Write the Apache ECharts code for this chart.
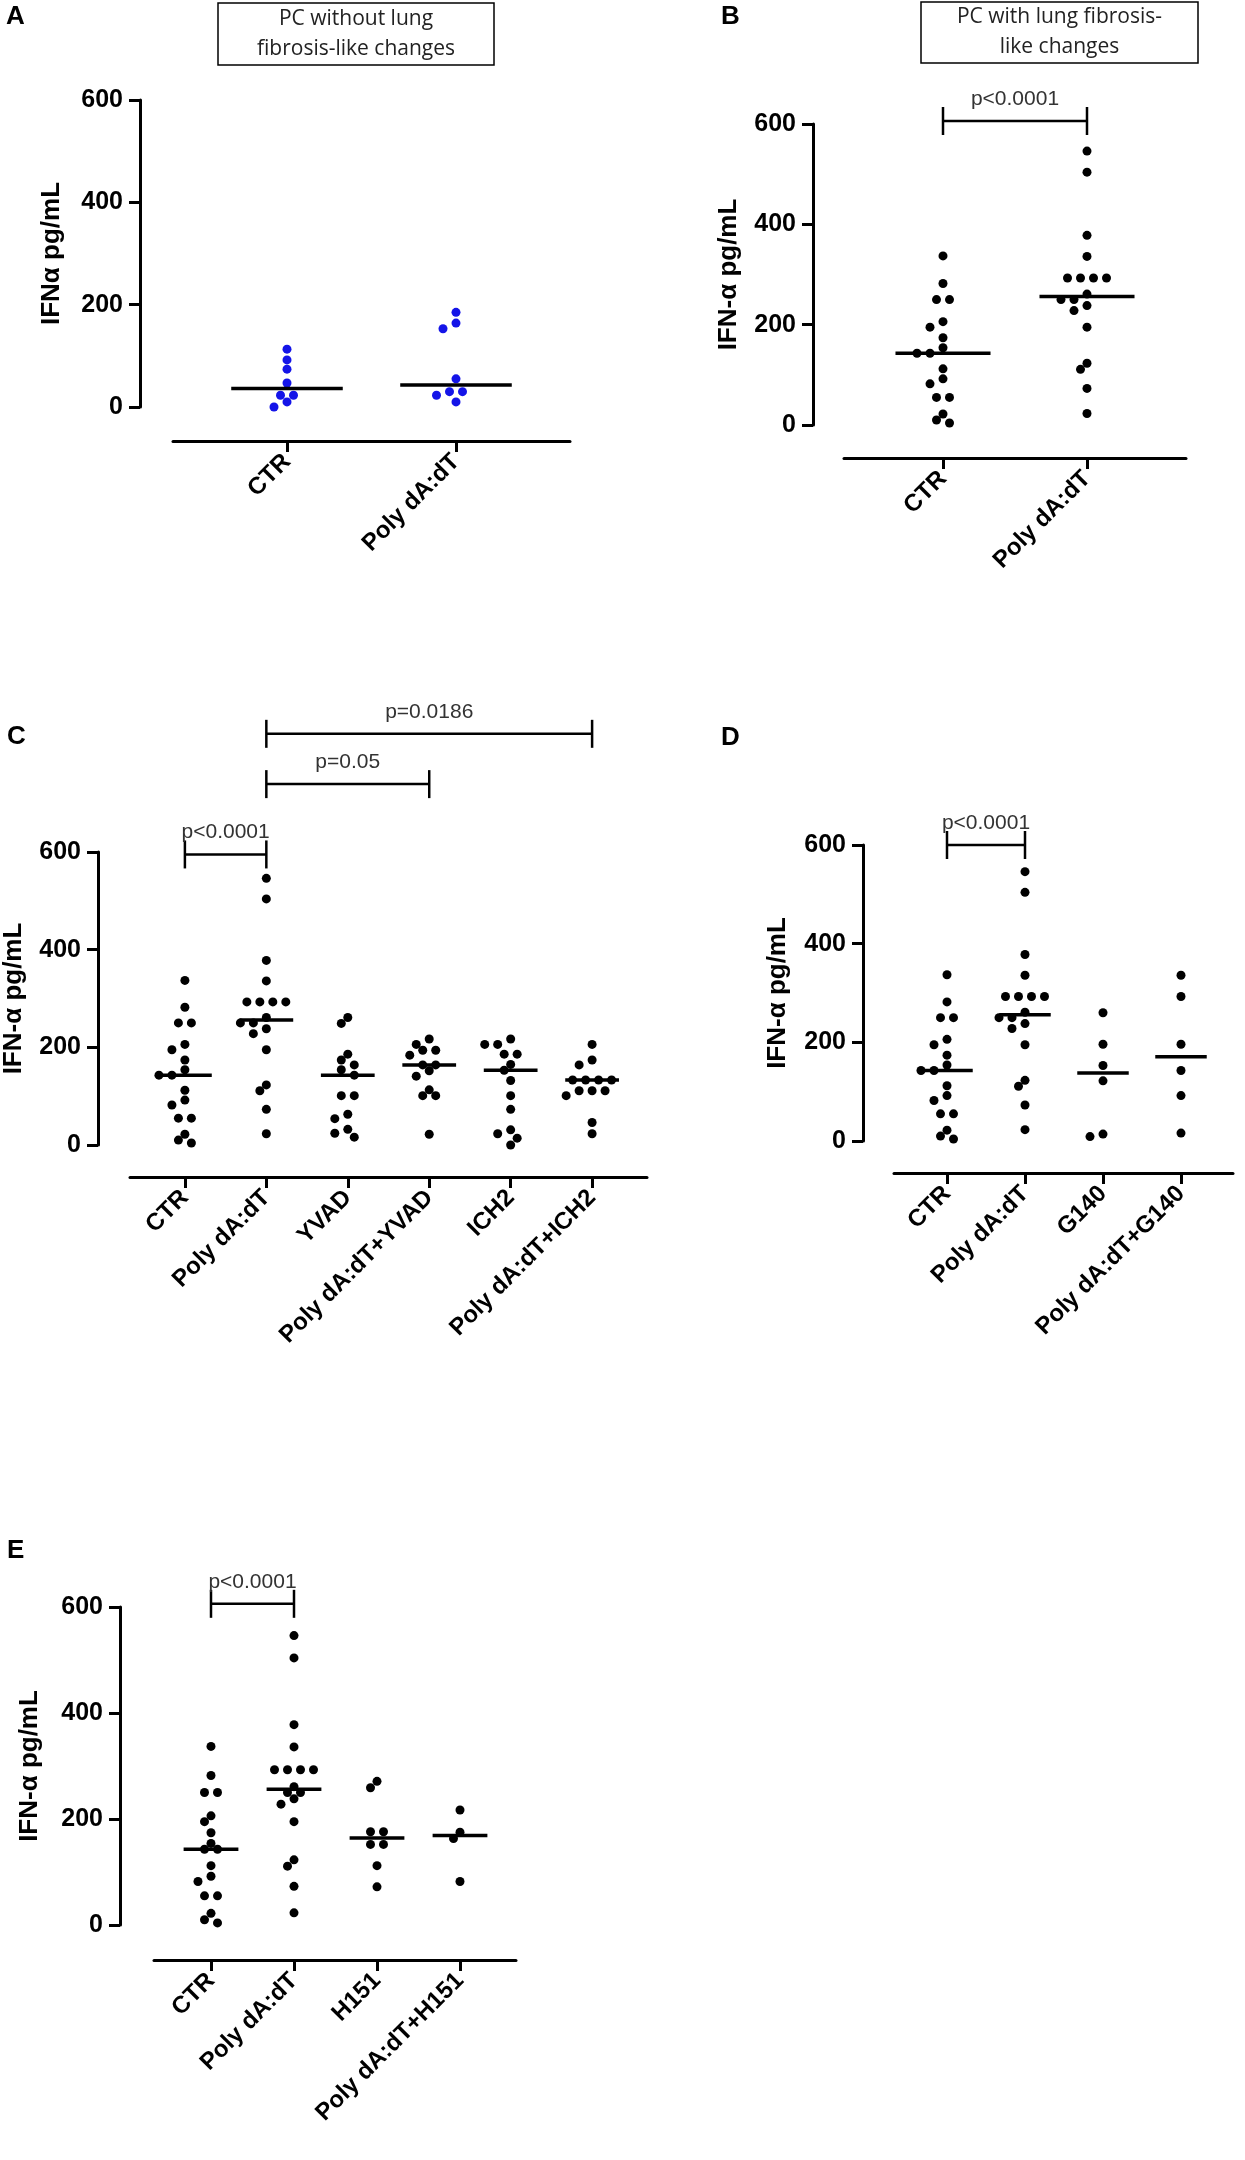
<!DOCTYPE html>
<html>
<head>
<meta charset="utf-8">
<script src="https://cdn.jsdelivr.net/npm/echarts@6.0.0/dist/echarts.min.js"></script>
<style>
  html, body { margin: 0; padding: 0; background: #fff; }
  #chart { width: 1245px; height: 2160px; }
</style>
</head>
<body>
<div id="chart"></div>
<script>
// IFN-alpha (pg/mL)
const ctrA = [113, 92, 74, 47, 23, 23, 10, 0];
const polyA = [185, 164, 153, 55, 30, 30, 23, 10];
const mediansA = [36, 43];

const ctr = [337, 282, 250, 250, 206, 195, 174, 154, 143, 143, 112, 92, 82, 55, 55, 22, 10, 4];
const poly = [546, 504, 378, 336, 293, 293, 293, 293, 261, 250, 250, 238, 228, 195, 123, 111, 73, 23];
const yvad = [261, 249, 186, 174, 164, 154, 143, 101, 101, 63, 54, 32, 24, 16];
const polyYvad = [217, 206, 194, 194, 184, 164, 164, 152, 141, 113, 101, 101, 22];
const ich2 = [217, 206, 206, 186, 186, 165, 153, 132, 101, 73, 31, 23, 14, 0];
const polyIch2 = [206, 174, 164, 133, 133, 133, 133, 111, 111, 111, 101, 46, 23];
const g140 = [260, 196, 153, 122, 14, 9];
const polyG140 = [336, 293, 196, 143, 92, 16];
const h151 = [271, 259, 176, 176, 152, 152, 112, 72];
const polyH151 = [217, 175, 163, 82];

const mediansB = [143, 256];
const mediansC = [143, 256, 143, 164, 153, 133];
const mediansD = [143, 256, 138, 171];
const mediansE = [143, 256, 164, 169];

const catsAB = ["CTR", "Poly dA:dT"];
const catsC = ["CTR", "Poly dA:dT", "YVAD", "Poly dA:dT+YVAD", "ICH2", "Poly dA:dT+ICH2"];
const catsD = ["CTR", "Poly dA:dT", "G140", "Poly dA:dT+G140"];
const catsE = ["CTR", "Poly dA:dT", "H151", "Poly dA:dT+H151"];

// [from group, to group, height (pg/mL), text]
const bracketsB = [[0, 1, 606, "p<0.0001"]];
const bracketsC = [[0, 1, 595, "p<0.0001"], [1, 3, 739, "p=0.05"], [1, 5, 842, "p=0.0186"]];
const bracketsD = [[0, 1, 600, "p<0.0001"]];
const bracketsE = [[0, 1, 606, "p<0.0001"]];

const FONT = "'Liberation Sans', Arial, sans-serif";

const panels = [
  { groups: [ctrA, polyA], medians: mediansA, cats: catsAB, brackets: [], color: "#1414e8",
    yName: "IFNα pg/mL", yAxisX: 140, top: 100, bottom: 407, lineY: 441, xL: 173, xR: 570, c0: 287, step: 169, nameGap: 75 },
  { groups: [ctr, poly], medians: mediansB, cats: catsAB, brackets: bracketsB, color: "#000",
    yName: "IFN-α pg/mL", yAxisX: 813, top: 124, bottom: 425, lineY: 458, xL: 844, xR: 1186, c0: 943, step: 144, nameGap: 71 },
  { groups: [ctr, poly, yvad, polyYvad, ich2, polyIch2], medians: mediansC, cats: catsC, brackets: bracketsC, color: "#000",
    yName: "IFN-α pg/mL", yAxisX: 97, top: 852, bottom: 1145, lineY: 1177, xL: 129, xR: 647, c0: 184, step: 81.6, nameGap: 71 },
  { groups: [ctr, poly, g140, polyG140], medians: mediansD, cats: catsD, brackets: bracketsD, color: "#000",
    yName: "IFN-α pg/mL", yAxisX: 863, top: 845, bottom: 1141, lineY: 1173, xL: 894, xR: 1233, c0: 947, step: 78, nameGap: 72 },
  { groups: [ctr, poly, h151, polyH151], medians: mediansE, cats: catsE, brackets: bracketsE, color: "#000",
    yName: "IFN-α pg/mL", yAxisX: 120, top: 1607, bottom: 1925, lineY: 1960, xL: 154, xR: 516, c0: 211, step: 83, nameGap: 77 },
];

// GraphPad-like horizontal spread so dots do not sit on top of each other
function swarmX(values, kx, ky) {
  const step = 13, half = step / 2, minDist = 8.6;
  const order = values.map((v, i) => i).sort((a, b) => values[b] - values[a]);
  const off = new Array(values.length).fill(0);
  const placed = [];
  let i = 0;
  while (i < order.length) {
    let j = i + 1;
    while (j < order.length && (values[order[i]] - values[order[j]]) * ky < 1.5) j++;
    const cluster = order.slice(i, j);
    const m = cluster.length;
    const base = cluster.map((_, k) => (k - (m - 1) / 2) * step);
    const ys = cluster.map((idx) => values[idx] * ky);
    let chosen = base;
    for (let t = 0; t < 17; t++) {
      const shift = t === 0 ? 0 : (t % 2 ? -1 : 1) * Math.ceil(t / 2) * half;
      const xs = base.map((b) => b + shift);
      const ok = xs.every((x, k) =>
        placed.every((p) => Math.hypot(p[0] - x, p[1] - ys[k]) >= minDist),
      );
      if (ok) {
        chosen = xs;
        break;
      }
    }
    cluster.forEach((idx, k) => {
      off[idx] = chosen[k] / kx;
      placed.push([chosen[k], ys[k]]);
    });
    i = j;
  }
  return off;
}

const grid = [], xAxis = [], yAxis = [], series = [];

panels.forEach((p, pi) => {
  const idx = p.cats.map((c, i) => i);
  const ky = (p.bottom - p.top) / 600;

  grid.push({ left: p.xL, top: p.top, width: p.xR - p.xL, height: p.bottom - p.top });

  xAxis.push({
    gridIndex: pi,
    type: "value",
    min: -(p.c0 - p.xL) / p.step,
    max: (p.xR - p.c0) / p.step,
    offset: p.lineY - p.bottom,
    axisLine: { show: true, onZero: false, lineStyle: { color: "#000", width: 3 } },
    axisTick: { show: true, customValues: idx, length: 11, lineStyle: { color: "#000", width: 3 } },
    axisLabel: {
      customValues: idx,
      formatter: (v) => p.cats[Math.round(v)],
      rotate: 45,
      margin: 17,
      color: "#000",
      fontSize: 24,
      fontWeight: "bold",
      fontFamily: FONT,
    },
    splitLine: { show: false },
  });

  yAxis.push({
    gridIndex: pi,
    type: "value",
    min: 0,
    max: 600,
    interval: 200,
    offset: p.xL - p.yAxisX,
    axisLine: { show: true, onZero: false, lineStyle: { color: "#000", width: 3 } },
    axisTick: { show: true, length: 11, lineStyle: { color: "#000", width: 3 } },
    axisLabel: { color: "#000", fontSize: 25, fontWeight: "bold", fontFamily: FONT, margin: 17 },
    splitLine: { show: false },
    name: p.yName,
    nameLocation: "middle",
    nameGap: p.nameGap,
    nameTextStyle: { color: "#000", fontSize: 26, fontWeight: "bold", fontFamily: FONT },
  });

  const pts = [];
  p.groups.forEach((vals, gi) => {
    const off = swarmX(vals, p.step, ky);
    vals.forEach((v, k) => pts.push([gi + off[k], v]));
  });

  series.push({
    type: "scatter",
    xAxisIndex: pi,
    yAxisIndex: pi,
    symbolSize: 9,
    itemStyle: { color: p.color, opacity: 1 },
    data: pts,
    silent: true,
    z: 2,
  });

  series.push({
    type: "custom",
    xAxisIndex: pi,
    yAxisIndex: pi,
    clip: false,
    silent: true,
    z: 3,
    encode: { x: 0, y: 1 },
    data: p.medians.map((m, i) => [i, m]),
    renderItem: (params, api) => {
      const a = api.coord([api.value(0) - 0.33, api.value(1)]);
      const b = api.coord([api.value(0) + 0.33, api.value(1)]);
      return {
        type: "line",
        shape: { x1: a[0], y1: a[1], x2: b[0], y2: b[1] },
        style: { stroke: "#000", lineWidth: 3.5 },
      };
    },
  });

  if (p.brackets.length) {
    series.push({
      type: "custom",
      xAxisIndex: pi,
      yAxisIndex: pi,
      clip: false,
      silent: true,
      z: 3,
      encode: { x: [0, 1], y: 2 },
      data: p.brackets.map((b) => [b[0], b[1], b[2]]),
      renderItem: (params, api) => {
        const br = p.brackets[params.dataIndex];
        const a = api.coord([br[0], br[2]]);
        const b = api.coord([br[1], br[2]]);
        const ln = { stroke: "#000", lineWidth: 2.5 };
        return {
          type: "group",
          children: [
            { type: "line", shape: { x1: a[0], y1: a[1], x2: b[0], y2: a[1] }, style: ln },
            { type: "line", shape: { x1: a[0], y1: a[1] - 14, x2: a[0], y2: a[1] + 14 }, style: ln },
            { type: "line", shape: { x1: b[0], y1: a[1] - 14, x2: b[0], y2: a[1] + 14 }, style: ln },
            {
              type: "text",
              x: (a[0] + b[0]) / 2,
              y: a[1] - 22,
              style: {
                text: br[3],
                align: "center",
                verticalAlign: "middle",
                fontSize: 21,
                fontFamily: FONT,
                fill: "#333",
              },
            },
          ],
        };
      },
    });
  }
});

const letter = (t, x, y) => ({
  type: "text",
  x: x,
  y: y,
  style: { text: t, fontSize: 26, fontWeight: "bold", fontFamily: FONT, fill: "#000", verticalAlign: "middle" },
});

const box = (x, y, w, h, text) => [
  { type: "rect", shape: { x: x, y: y, width: w, height: h }, style: { fill: "#fff", stroke: "#000", lineWidth: 1.5 } },
  {
    type: "text",
    x: x + w / 2,
    y: y + h / 2,
    style: {
      text: text,
      align: "center",
      verticalAlign: "middle",
      fontSize: 21,
      lineHeight: 30,
      fontFamily: "'Open Sans', 'Noto Sans', sans-serif",
      fill: "#222",
    },
  },
];

const chart = echarts.init(document.getElementById("chart"), null, { renderer: "canvas" });
chart.setOption({
  animation: false,
  backgroundColor: "#fff",
  grid: grid,
  xAxis: xAxis,
  yAxis: yAxis,
  series: series,
  graphic: [
    letter("A", 6, 17),
    letter("B", 721, 17),
    letter("C", 7, 737),
    letter("D", 721, 738),
    letter("E", 7, 1551),
    ...box(218, 3, 276, 62, "PC without lung\nfibrosis-like changes"),
    ...box(921, 2, 277, 61, "PC with lung fibrosis-\nlike changes"),
  ],
});
</script>
</body>
</html>
